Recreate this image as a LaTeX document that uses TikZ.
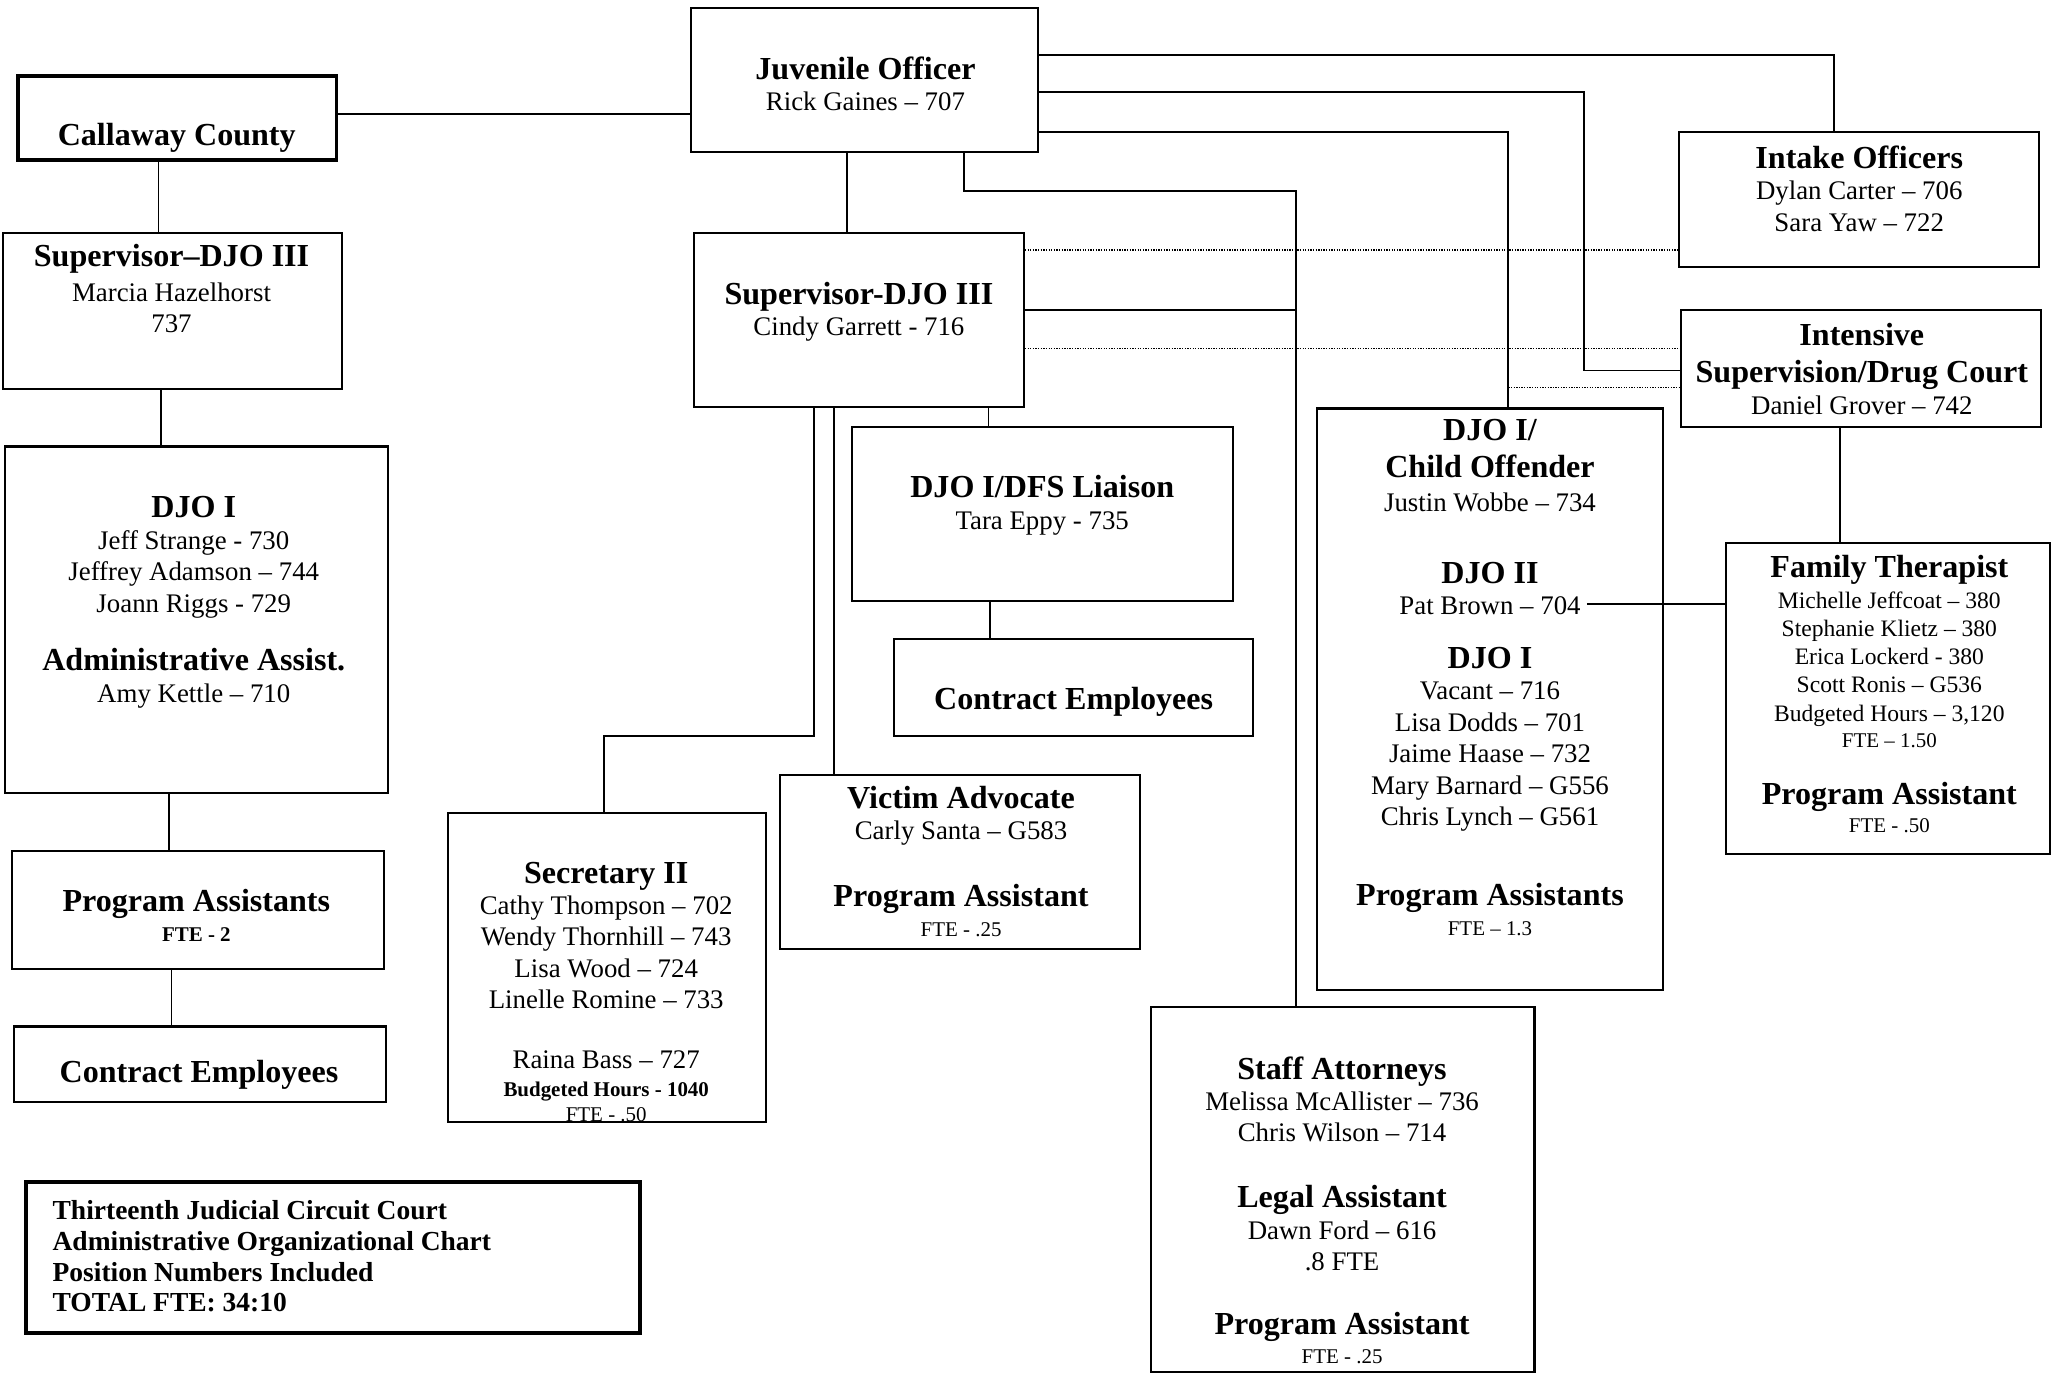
\documentclass[tikz,border=0pt]{standalone}
\usepackage{fontspec}
\setmainfont{Liberation Serif}
\usetikzlibrary{fit}

% text sizes
\newcommand\ttl{\fontsize{24.5}{28}\selectfont\bfseries}
\newcommand\nm{\fontsize{20.5}{24}\selectfont}
\newcommand\sml{\fontsize{16}{20}\selectfont}
\newcommand\lgd{\fontsize{21}{23.3}\selectfont\bfseries}

\tikzset{
  box/.style={draw, line width=1.6pt, inner sep=0pt},
  heavybox/.style={draw, line width=3pt, inner sep=0pt},
  txt/.style={align=center, inner sep=0pt, anchor=north, font=\nm},
  link/.style={line width=1.4pt},
  dotlink/.style={line width=1pt, densely dotted},
}

\begin{document}
\begin{tikzpicture}[x=1pt, y=-1pt]
    \useasboundingbox (0,0) rectangle (1568,1051);

    % --- Left Column ---
    % Callaway County
    \node[heavybox, fit={(14,58) (257,122)}] (cc) {};
    \node[txt, anchor=center] (cc-t) at (135,105) {\ttl Callaway County};

    % Supervisor (Marcia)
    \node[box, fit={(2,178) (261,297)}] (sup1) {};
    \node[txt] (sup1-t) at (131,186) {{\ttl Supervisor–DJO III}\\[3pt]
        Marcia Hazelhorst\\ 737};

    % DJO I and admin assistant
    \node[box, fit={(4,341) (296,606)}] (djo1l) {};
    \node[txt] (djo1l-t) at (148,379) {{\ttl DJO I}\\ Jeff Strange - 730\\
        Jeffrey Adamson – 744\\ Joann Riggs - 729\\[21pt]
        {\ttl Administrative Assist.}\\ Amy Kettle – 710};

    % Program Assistants
    \node[box, fit={(9,650) (293,740)}] (pal) {};
    \node[txt] (pal-t) at (150,679) {{\ttl Program Assistants}\\[-1pt]
        {\sml\bfseries FTE - 2}};

    % Contract Employees
    \node[box, fit={(11,784) (295,842)}] (cel) {};
    \node[txt, anchor=center] (cel-t) at (152,821) {\ttl Contract Employees};

    % Title block
    \node[heavybox, fit={(20,903) (489,1018)}] (legend) {};
    \node[txt, anchor=north west, align=left, font=\lgd] (legend-t) at (40,917)
        {Thirteenth Judicial Circuit Court\\ Administrative Organizational Chart\\
         Position Numbers Included\\ TOTAL FTE: 34:10};

    % --- Middle Section ---
    % Juvenile Officer
    \node[box, fit={(528,6) (793,116)}] (jo) {};
    \node[txt] (jo-t) at (661,43) {{\ttl Juvenile Officer}\\ Rick Gaines – 707};

    % Supervisor (Cindy)
    \node[box, fit={(530,178) (782,311)}] (sup2) {};
    \node[txt] (sup2-t) at (656,215) {{\ttl Supervisor-DJO III}\\ Cindy Garrett - 716};

    % DJO I/DFS Liaison
    \node[box, fit={(651,326) (942,459)}] (dfs) {};
    \node[txt] (dfs-t) at (796,363) {{\ttl DJO I/DFS Liaison}\\ Tara Eppy - 735};

    % Contract Employees
    \node[box, fit={(683,488) (957,562)}] (cem) {};
    \node[txt, anchor=center] (cem-t) at (820,536) {\ttl Contract Employees};

    % Victim Advocate
    \node[box, fit={(596,592) (871,725)}] (va) {};
    \node[txt] (va-t) at (734,600) {{\ttl Victim Advocate}\\ Carly Santa – G583\\[27pt]
        {\ttl Program Assistant}\\[-1pt] {\sml FTE - .25}};

    % Secretary II
    \node[box, fit={(342,621) (585,857)}] (sec) {};
    \node[txt] (sec-t) at (463,658) {{\ttl Secretary II}\\ Cathy Thompson – 702\\
        Wendy Thornhill – 743\\ Lisa Wood – 724\\ Linelle Romine – 733\\[22pt]
        Raina Bass – 727\\[-3pt] {\sml\bfseries Budgeted Hours - 1040}\\[-5pt]
        {\sml FTE - .50}};

    % Staff Attorneys
    \node[box, fit={(879,769) (1172,1048)}] (sa) {};
    \node[txt] (sa-t) at (1025,807) {{\ttl Staff Attorneys}\\ Melissa McAllister – 736\\[-1pt]
        Chris Wilson – 714\\[27pt] {\ttl Legal Assistant}\\ Dawn Ford – 616\\ .8 FTE\\[25pt]
        {\ttl Program Assistant}\\[-2pt] {\sml FTE - .25}};

    % --- Right Section ---
    % Intake Officers
    \node[box, fit={(1282,101) (1557,204)}] (io) {};
    \node[txt] (io-t) at (1420,111) {{\ttl Intake Officers}\\ Dylan Carter – 706\\
        Sara Yaw – 722};

    % Intensive Supervision
    \node[box, fit={(1284,237) (1559,326)}] (isc) {};
    \node[txt] (isc-t) at (1422,247) {{\ttl Intensive}\\[4pt]
        {\ttl Supervision/Drug Court}\\ Daniel Grover – 742};

    % DJO I/Child Offender
    \node[box, fit={(1006,312) (1270,756)}] (dco) {};
    \node[txt] (dco-t) at (1138,320) {{\ttl DJO I/}\\[4pt] {\ttl Child Offender}\\[2pt]
        Justin Wobbe – 734\\[31pt] {\ttl DJO II}\\ Pat Brown – 704\\[17pt]
        {\ttl DJO I}\\ Vacant – 716\\ Lisa Dodds – 701\\ Jaime Haase – 732\\
        Mary Barnard – G556\\ Chris Lynch – G561\\[37pt]
        {\ttl Program Assistants}\\[-1pt] {\sml FTE – 1.3}};
    \coordinate (pb) at (1212,461);

    % Family Therapist
    \node[box, fit={(1318,415) (1566,652)}] (ft) {};
    \node[txt, font=\fontsize{18}{21.5}\selectfont] (ft-t) at (1443,424)
        {{\ttl Family Therapist}\\[2pt] Michelle Jeffcoat – 380\\
        Stephanie Klietz – 380\\ Erica Lockerd - 380\\ Scott Ronis – G536\\
        Budgeted Hours – 3,120\\[-1.5pt] {\sml FTE – 1.50}\\[22.5pt]
        {\ttl Program Assistant}\\ {\sml FTE - .50}};

    % --- Connectors ---
    % left column
    \draw[link] (0,87 -| cc.east) -- (0,87 -| jo.west);
    \draw[link] (121,0 |- cc.south) -- (121,0 |- sup1.north);
    \draw[link] (123,0 |- sup1.south) -- (123,0 |- djo1l.north);
    \draw[link] (129,0 |- djo1l.south) -- (129,0 |- pal.north);
    \draw[link] (131,0 |- pal.south) -- (131,0 |- cel.north);

    % from Juvenile Officer
    \draw[link] (647,0 |- jo.south) -- (647,0 |- sup2.north);
    \draw[link] (0,42 -| jo.east) -| (1401,0 |- io.north);
    \draw[link] (0,70 -| jo.east) -| (1210,283) -- (0,283 -| isc.west);
    \draw[link] (0,101 -| jo.east) -| (1152,0 |- dco.north);
    \draw[link] (736,0 |- jo.south) |- (990,146) -- (990,0 |- sa.north);

    % from Supervisor (Cindy)
    \draw[link] (0,237 -| sup2.east) -- (990,237);
    \draw[dotlink] (0,191 -| sup2.east) -- (0,191 -| io.west);
    \draw[dotlink] (0,266 -| sup2.east) -- (0,266 -| isc.west);
    \draw[dotlink] (1152,296) -- (0,296 -| isc.west);
    \draw[link] (622,0 |- sup2.south) |- (461,562) -- (461,0 |- sec.north);
    \draw[link] (637,0 |- sup2.south) -- (637,0 |- va.north);
    \draw[link] (755,0 |- sup2.south) -- (755,0 |- dfs.north);
    \draw[link] (756,0 |- dfs.south) -- (756,0 |- cem.north);

    % right side
    \draw[link] (1405,0 |- isc.south) -- (1405,0 |- ft.north);
    \draw[link] (pb) -- (pb -| ft.west);

\end{tikzpicture}
\end{document}
